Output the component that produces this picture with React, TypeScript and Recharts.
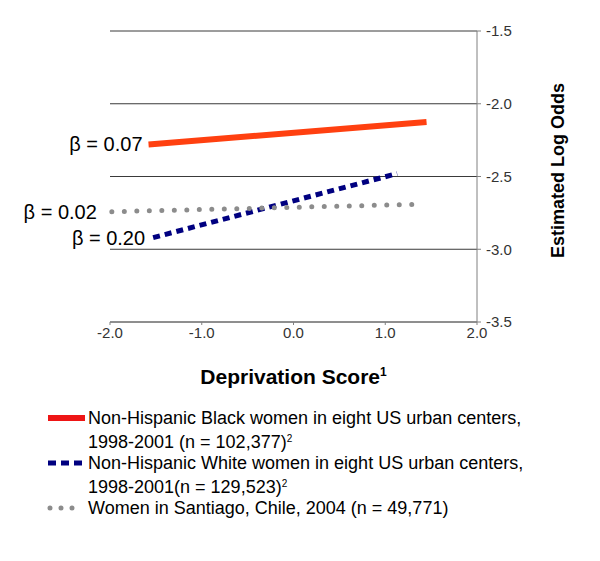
import { LineChart, Line, XAxis, YAxis, CartesianGrid, LabelList } from 'recharts'

// deprivation score (x) and estimated log odds (y) at the ends of each fitted line
const blackX = [-1.58, 1.45]
const blackY = [-2.28, -2.125]
const whiteX = [-1.53, 1.13]
const whiteY = [-2.92, -2.48]
const chileX = [-1.98, 1.29]
const chileY = [-2.742, -2.692]

const xTicks = [-2, -1, 0, 1, 2]
const yTicks = [-3.5, -3, -2.5, -2, -1.5]

const toPoints = (xs: number[], ys: number[]) => xs.map((x, i) => ({ x, y: ys[i] }))

const series = [
    {
        key: 'black',
        data: toPoints(blackX, blackY),
        beta: 'β = 0.07',
        gap: 6,
        color: '#ff4010',
        legendColor: '#ee1515',
        width: 6,
        dash: undefined as string | undefined,
        legendDash: undefined as string | undefined,
        cap: 'butt' as const,
        legend: ['Non-Hispanic Black women in eight US urban centers,', '1998-2001 (n = 102,377)'],
        sup: '2',
    },
    {
        key: 'white',
        data: toPoints(whiteX, whiteY),
        beta: 'β = 0.20',
        gap: 8,
        color: '#000080',
        legendColor: '#000080',
        width: 5,
        dash: '7 5',
        legendDash: '8 5',
        cap: 'butt' as const,
        legend: ['Non-Hispanic White women in eight US urban centers,', '1998-2001(n = 129,523)'],
        sup: '2',
    },
    {
        key: 'chile',
        data: toPoints(chileX, chileY),
        beta: 'β = 0.02',
        gap: 15,
        color: '#8c8c8c',
        legendColor: '#8c8c8c',
        width: 5,
        dash: '0 12.5',
        legendDash: '0 11',
        cap: 'round' as const,
        legend: ['Women in Santiago, Chile, 2004 (n = 49,771)'],
        sup: '',
    },
]

const font = '"Liberation Sans", Arial, sans-serif'

function LegendBlock() {
    let y = 418
    return (
        <svg width={600} height={140} style={{ position: 'absolute', left: 0, top: 400 }} viewBox="0 400 600 140">
            {series.map((s) => {
                const top = y
                y += s.legend.length === 2 ? 45 : 0
                return (
                    <g key={s.key}>
                        <line
                            x1={s.cap === 'round' ? 50 : 48}
                            x2={s.cap === 'round' ? 73 : 85}
                            y1={top}
                            y2={top}
                            stroke={s.legendColor}
                            strokeWidth={s.width}
                            strokeDasharray={s.legendDash}
                            strokeLinecap={s.cap}
                        />
                        {s.legend.map((t, i) => (
                            <text key={i} x={88} y={top + i * 24} dy="0.35em" fontSize={18} fontFamily={font} fill="#000">
                                {t}
                                {i === s.legend.length - 1 && s.sup ? (
                                    <tspan fontSize={10} dy={-6}>{s.sup}</tspan>
                                ) : null}
                            </text>
                        ))}
                    </g>
                )
            })}
        </svg>
    )
}

export default function App() {
    return (
        <div style={{ position: 'absolute', left: 0, top: 0, width: 600, height: 561, background: '#fff' }}>
            <LineChart width={600} height={561} margin={{ top: 31, right: 23, bottom: 179, left: 110 }}>
                <CartesianGrid vertical={false} stroke="#3a3a3a" strokeWidth={1} />
                <XAxis
                    type="number"
                    dataKey="x"
                    domain={[-2, 2]}
                    ticks={xTicks}
                    tickFormatter={(v: number) => v.toFixed(1)}
                    height={60}
                    stroke="#808080"
                    tickSize={3}
                    tickMargin={2}
                    tick={{ fill: '#333', fontSize: 15, fontFamily: font }}
                    label={{
                        content: ({ viewBox }: any) => (
                            <text
                                x={viewBox.x + viewBox.width / 2}
                                y={viewBox.y + 62}
                                textAnchor="middle"
                                fontSize={21}
                                fontWeight="bold"
                                fontFamily={font}
                                fill="#000"
                            >
                                Deprivation Score
                                <tspan fontSize={12} dy={-8}>1</tspan>
                            </text>
                        ),
                    }}
                />
                <YAxis
                    type="number"
                    dataKey="y"
                    orientation="right"
                    domain={[-3.5, -1.5]}
                    ticks={yTicks}
                    tickFormatter={(v: number) => v.toFixed(1)}
                    width={100}
                    stroke="#808080"
                    tickSize={4}
                    tickMargin={5}
                    tick={{ fill: '#333', fontSize: 15, fontFamily: font }}
                    label={{
                        content: ({ viewBox }: any) => {
                            const cx = viewBox.x + 81
                            const cy = viewBox.y + viewBox.height / 2 - 6
                            return (
                                <text
                                    x={cx}
                                    y={cy}
                                    transform={`rotate(-90, ${cx}, ${cy})`}
                                    textAnchor="middle"
                                    dy="0.35em"
                                    fontSize={18}
                                    fontWeight="bold"
                                    fontFamily={font}
                                    fill="#000"
                                >
                                    Estimated Log Odds
                                </text>
                            )
                        },
                    }}
                />
                {series.map((s) => (
                    <Line
                        key={s.key}
                        data={s.data}
                        dataKey="y"
                        type="linear"
                        stroke={s.color}
                        strokeWidth={s.width}
                        strokeDasharray={s.dash}
                        strokeLinecap={s.cap}
                        dot={false}
                        activeDot={false}
                        isAnimationActive={false}
                    >
                        <LabelList
                            dataKey="y"
                            content={(p: any) =>
                                p.index === 0 ? (
                                    <text
                                        x={p.x - s.gap}
                                        y={p.y}
                                        dy="0.35em"
                                        textAnchor="end"
                                        fontSize={20}
                                        fontFamily={font}
                                        fill="#000"
                                    >
                                        {s.beta}
                                    </text>
                                ) : null
                            }
                        />
                    </Line>
                ))}
            </LineChart>
            <LegendBlock />
        </div>
    )
}
